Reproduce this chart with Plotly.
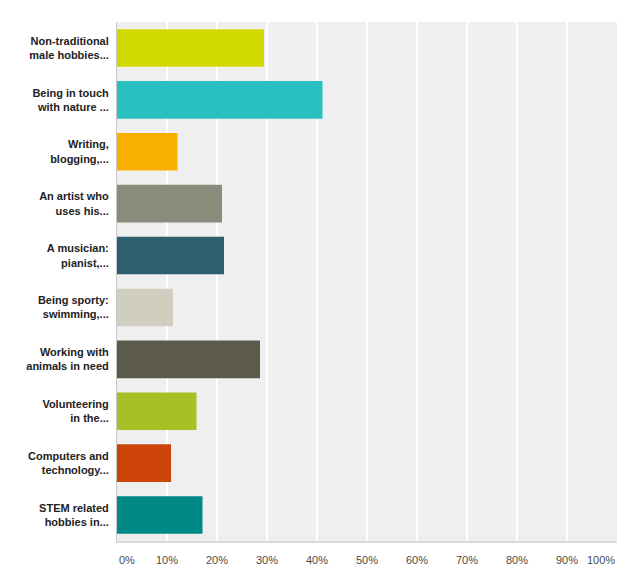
import plotly.graph_objects as go

labels = [
    "Non-traditional<br>male hobbies...",
    "Being in touch<br>with nature ...",
    "Writing,<br>blogging,...",
    "An artist who<br>uses his...",
    "A musician:<br>pianist,...",
    "Being sporty:<br>swimming,...",
    "Working with<br>animals in need",
    "Volunteering<br>in the...",
    "Computers and<br>technology...",
    "STEM related<br>hobbies in...",
]
values = [29.4, 41.1, 12.1, 21.0, 21.4, 11.2, 28.6, 15.9, 10.8, 17.1]
colors = ["#d1d800", "#2abfc0", "#f9b000", "#8a8b7a", "#2d5f6e",
          "#cfcebf", "#5c5b4b", "#a8c026", "#cc4408", "#008987"]
ticks = list(range(0, 101, 10))
tick_text = [f"{t}%" for t in ticks]

fig = go.Figure()
fig.add_trace(go.Bar(
    x=values, y=labels, orientation="h",
    marker=dict(color=colors, line=dict(width=0)),
    hoverinfo="x+y",
))

# x tick labels: first one left-aligned, last one right-aligned, like the original
for t, txt in zip(ticks, tick_text):
    anchor = "left" if t == 0 else ("right" if t == 100 else "center")
    fig.add_annotation(x=t, y=0, xref="x", yref="paper", text=txt,
                       showarrow=False, xanchor=anchor, yanchor="top", yshift=-11,
                       font=dict(family="Liberation Sans, Arial", size=11, color="#4a4a4a"))

# page body has an 8px margin, so margins are trimmed to land where the original is
fig.update_layout(
    width=640, height=581,
    margin=dict(l=109, r=31, t=14, b=48, autoexpand=False),
    paper_bgcolor="white", plot_bgcolor="#efefef",
    bargap=0.275, showlegend=False,
    font=dict(family="Liberation Sans, Arial", size=11, color="#333"),
)
fig.update_xaxes(range=[0, 100], tickvals=ticks, showticklabels=False,
                 showgrid=True, gridcolor="white", gridwidth=2,
                 showline=True, linecolor="#d9d9d9", linewidth=2,
                 zeroline=False, fixedrange=True)
fig.update_yaxes(autorange="reversed", showline=True, linecolor="#c8c8c8", linewidth=1,
                 ticks="", ticklabelstandoff=5, automargin=False,
                 tickfont=dict(family="Liberation Sans, Arial", size=11, color="#222", weight="bold"),
                 fixedrange=True)

fig.write_html("out.html")
